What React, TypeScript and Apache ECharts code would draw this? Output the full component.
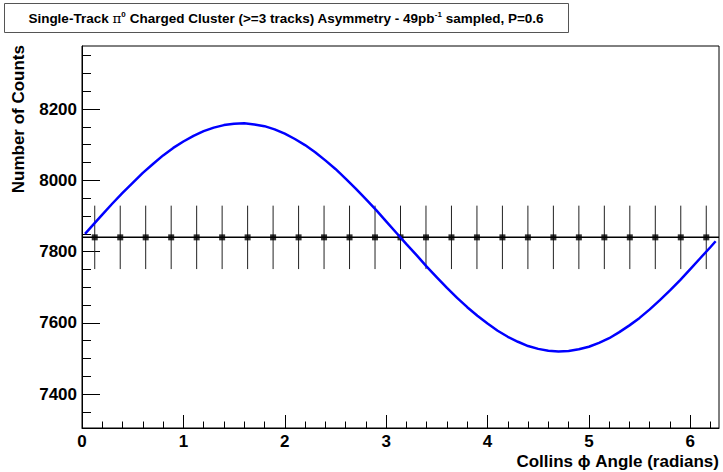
import React, { useEffect, useRef } from "react";
import * as echarts from "echarts";

// Collins angle range of the histogram: 0 .. 2π, 25 bins
const PHI_MIN = 0;
const PHI_MAX = 2 * Math.PI;

// Bin centres (radians)
const BIN_CENTERS = [
  0.1257, 0.377, 0.6283, 0.8796, 1.131, 1.3823, 1.6336, 1.885, 2.1363, 2.3876,
  2.6389, 2.8903, 3.1416, 3.3929, 3.6442, 3.8956, 4.1469, 4.3982, 4.6496,
  4.9009, 5.1522, 5.4035, 5.6549, 5.9062, 6.1575,
];

// Counts per bin and their statistical errors
const COUNTS = [
  7840, 7840, 7840, 7840, 7840, 7840, 7840, 7840, 7840, 7840, 7840, 7840, 7840,
  7840, 7840, 7840, 7840, 7840, 7840, 7840, 7840, 7840, 7840, 7840, 7840,
];
const ERRORS = [
  89, 89, 89, 89, 89, 89, 89, 89, 89, 89, 89, 89, 89, 89, 89, 89, 89, 89, 89,
  89, 89, 89, 89, 89, 89,
];

// Flat (constant) fit level
const FIT_LEVEL = 7840;

// Expected asymmetry curve, sampled along φ
const CURVE_PHI = [
  0.03, 0.1, 0.2, 0.3, 0.4, 0.5, 0.6, 0.7, 0.8, 0.9, 1.0, 1.1, 1.2, 1.3, 1.4,
  1.5, 1.6, 1.7, 1.8, 1.9, 2.0, 2.1, 2.2, 2.3, 2.4, 2.5, 2.6, 2.7, 2.8, 2.9,
  3.0, 3.1, 3.2, 3.3, 3.4, 3.5, 3.6, 3.7, 3.8, 3.9, 4.0, 4.1, 4.2, 4.3, 4.4,
  4.5, 4.6, 4.7, 4.8, 4.9, 5.0, 5.1, 5.2, 5.3, 5.4, 5.5, 5.6, 5.7, 5.8, 5.9,
  6.0, 6.1, 6.2, 6.25,
];
const CURVE_COUNTS = [
  7850, 7872, 7904, 7935, 7965, 7993, 8021, 8046, 8070, 8091, 8109, 8125, 8138,
  8148, 8155, 8159, 8160, 8157, 8152, 8143, 8131, 8116, 8099, 8079, 8056, 8032,
  8005, 7977, 7947, 7917, 7885, 7853, 7821, 7790, 7758, 7728, 7698, 7670, 7644,
  7620, 7598, 7578, 7561, 7547, 7535, 7527, 7522, 7520, 7521, 7526, 7533, 7544,
  7557, 7574, 7593, 7614, 7638, 7664, 7691, 7720, 7751, 7782, 7813, 7829,
];

// Axis ranges and tick marks
const Y_MIN = 7305;
const Y_MAX = 8377;
const Y_LABELS = [7400, 7600, 7800, 8000, 8200];
const Y_MINOR = [
  7350, 7400, 7450, 7500, 7550, 7600, 7650, 7700, 7750, 7800, 7850, 7900, 7950,
  8000, 8050, 8100, 8150, 8200, 8250, 8300, 8350,
];
const X_LABELS = [0, 1, 2, 3, 4, 5, 6];
const X_MINOR = [
  0.2, 0.4, 0.6, 0.8, 1.2, 1.4, 1.6, 1.8, 2.2, 2.4, 2.6, 2.8, 3.2, 3.4, 3.6,
  3.8, 4.2, 4.4, 4.6, 4.8, 5.2, 5.4, 5.6, 5.8, 6.2,
];

const TITLE_PARTS = {
  pre: "Single-Track ",
  pi: "π",
  zero: "0",
  mid: " Charged Cluster (>=3 tracks) Asymmetry - 49pb",
  inv: "-1",
  post: " sampled, P=0.6",
};
const X_TITLE = "Collins ϕ Angle (radians)";
const Y_TITLE = "Number of Counts";

const FONT = '"Liberation Sans", Arial, Helvetica, sans-serif';

export default function App() {
  const ref = useRef<HTMLDivElement>(null);

  useEffect(() => {
    if (!ref.current) return;
    const chart = echarts.init(ref.current, undefined, { renderer: "svg" });

    const points = BIN_CENTERS.map((x, i) => [x, COUNTS[i], ERRORS[i]]);
    const curve = CURVE_PHI.map((x, i) => [x, CURVE_COUNTS[i]]);

    const grid = {
      left: 82,
      top: 46,
      right: 4,
      bottom: 44,
      show: true,
      borderColor: "#000",
      borderWidth: 1,
      backgroundColor: "#fff",
    };

    const majorX = {
      type: "value",
      min: PHI_MIN,
      max: PHI_MAX,
      axisLine: { show: true, onZero: false, lineStyle: { color: "#000", width: 1 } },
      splitLine: { show: false },
      axisTick: {
        show: true,
        inside: true,
        length: 13,
        customValues: X_LABELS,
        lineStyle: { color: "#000", width: 1 },
      },
      axisLabel: {
        show: true,
        customValues: X_LABELS,
        margin: 5,
        color: "#000",
        fontFamily: FONT,
        fontWeight: "bold",
        fontSize: 17,
        formatter: (v: number) => String(Math.round(v)),
      },
    };
    const minorX = {
      type: "value",
      min: PHI_MIN,
      max: PHI_MAX,
      position: "bottom",
      axisLine: { show: false },
      splitLine: { show: false },
      axisLabel: { show: false },
      axisTick: {
        show: true,
        inside: true,
        length: 6.5,
        customValues: X_MINOR,
        lineStyle: { color: "#000", width: 1 },
      },
    };
    const majorY = {
      type: "value",
      min: Y_MIN,
      max: Y_MAX,
      position: "left",
      axisLine: { show: true, onZero: false, lineStyle: { color: "#000", width: 1 } },
      splitLine: { show: false },
      axisTick: {
        show: true,
        inside: true,
        length: 18,
        customValues: Y_LABELS,
        lineStyle: { color: "#000", width: 1 },
      },
      axisLabel: {
        show: true,
        customValues: Y_LABELS,
        margin: 5,
        color: "#000",
        fontFamily: FONT,
        fontWeight: "bold",
        fontSize: 17,
        formatter: (v: number) => String(Math.round(v)),
      },
    };
    const minorY = {
      type: "value",
      min: Y_MIN,
      max: Y_MAX,
      position: "left",
      axisLine: { show: false },
      splitLine: { show: false },
      axisLabel: { show: false },
      axisTick: {
        show: true,
        inside: true,
        length: 9,
        customValues: Y_MINOR,
        lineStyle: { color: "#000", width: 1 },
      },
    };

    chart.setOption({
      animation: false,
      backgroundColor: "#fff",
      grid,
      xAxis: [majorX, minorX],
      yAxis: [majorY, minorY],
      series: [
        {
          name: "fit",
          type: "line",
          data: [
            [PHI_MIN, FIT_LEVEL],
            [PHI_MAX, FIT_LEVEL],
          ],
          showSymbol: false,
          lineStyle: { color: "#000", width: 1.5 },
          z: 2,
        },
        {
          name: "errors",
          type: "custom",
          data: points,
          renderItem: (_params: any, api: any) => {
            const x = api.value(0);
            const y = api.value(1);
            const e = api.value(2);
            const hi = api.coord([x, y + e]);
            const lo = api.coord([x, y - e]);
            return {
              type: "line",
              shape: { x1: hi[0], y1: hi[1], x2: lo[0], y2: lo[1] },
              style: { stroke: "#222", lineWidth: 1 },
            };
          },
          z: 3,
        },
        {
          name: "counts",
          type: "scatter",
          data: points.map((p) => [p[0], p[1]]),
          symbol: "rect",
          symbolSize: 6,
          itemStyle: { color: "#000" },
          z: 4,
        },
        {
          name: "asymmetry",
          type: "line",
          data: curve,
          smooth: false,
          showSymbol: false,
          lineStyle: { color: "#0000ff", width: 2.5 },
          z: 5,
        },
      ],
      graphic: [
        {
          type: "rect",
          shape: { x: 4.5, y: 3.5, width: 564, height: 29 },
          style: { fill: "#fff", stroke: "#555", lineWidth: 1 },
          z: 10,
        },
        {
          type: "text",
          x: 286,
          y: 18,
          z: 11,
          style: {
            text:
              "{a|" + TITLE_PARTS.pre + "}{g|" + TITLE_PARTS.pi + "}{s|" + TITLE_PARTS.zero +
              "}{a|" + TITLE_PARTS.mid + "}{s|" + TITLE_PARTS.inv + "}{a|" + TITLE_PARTS.post + "}",
            align: "center",
            verticalAlign: "middle",
            rich: {
              a: { fontFamily: FONT, fontWeight: "bold", fontSize: 13.5, fill: "#000", lineHeight: 16 },
              g: { fontFamily: '"DejaVu Serif", serif', fontSize: 13.5, fill: "#000", lineHeight: 16 },
              s: {
                fontFamily: FONT,
                fontWeight: "bold",
                fontSize: 8,
                fill: "#000",
                lineHeight: 16,
                verticalAlign: "top",
                padding: [0, 0, 6, 0],
              },
            },
          },
        },
        {
          type: "text",
          x: 719,
          y: 461,
          style: {
            text: X_TITLE,
            fontFamily: FONT,
            fontWeight: "bold",
            fontSize: 17,
            fill: "#000",
            align: "right",
            verticalAlign: "middle",
          },
        },
        {
          type: "text",
          x: 18,
          y: 45,
          rotation: Math.PI / 2,
          style: {
            text: Y_TITLE,
            fontFamily: FONT,
            fontWeight: "bold",
            fontSize: 17,
            fill: "#000",
            align: "right",
            verticalAlign: "middle",
          },
        },
      ],
    });

    return () => chart.dispose();
  }, []);

  return (
    <div
      ref={ref}
      style={{ position: "fixed", left: 0, top: 0, width: 723, height: 472, background: "#fff" }}
    />
  );
}
